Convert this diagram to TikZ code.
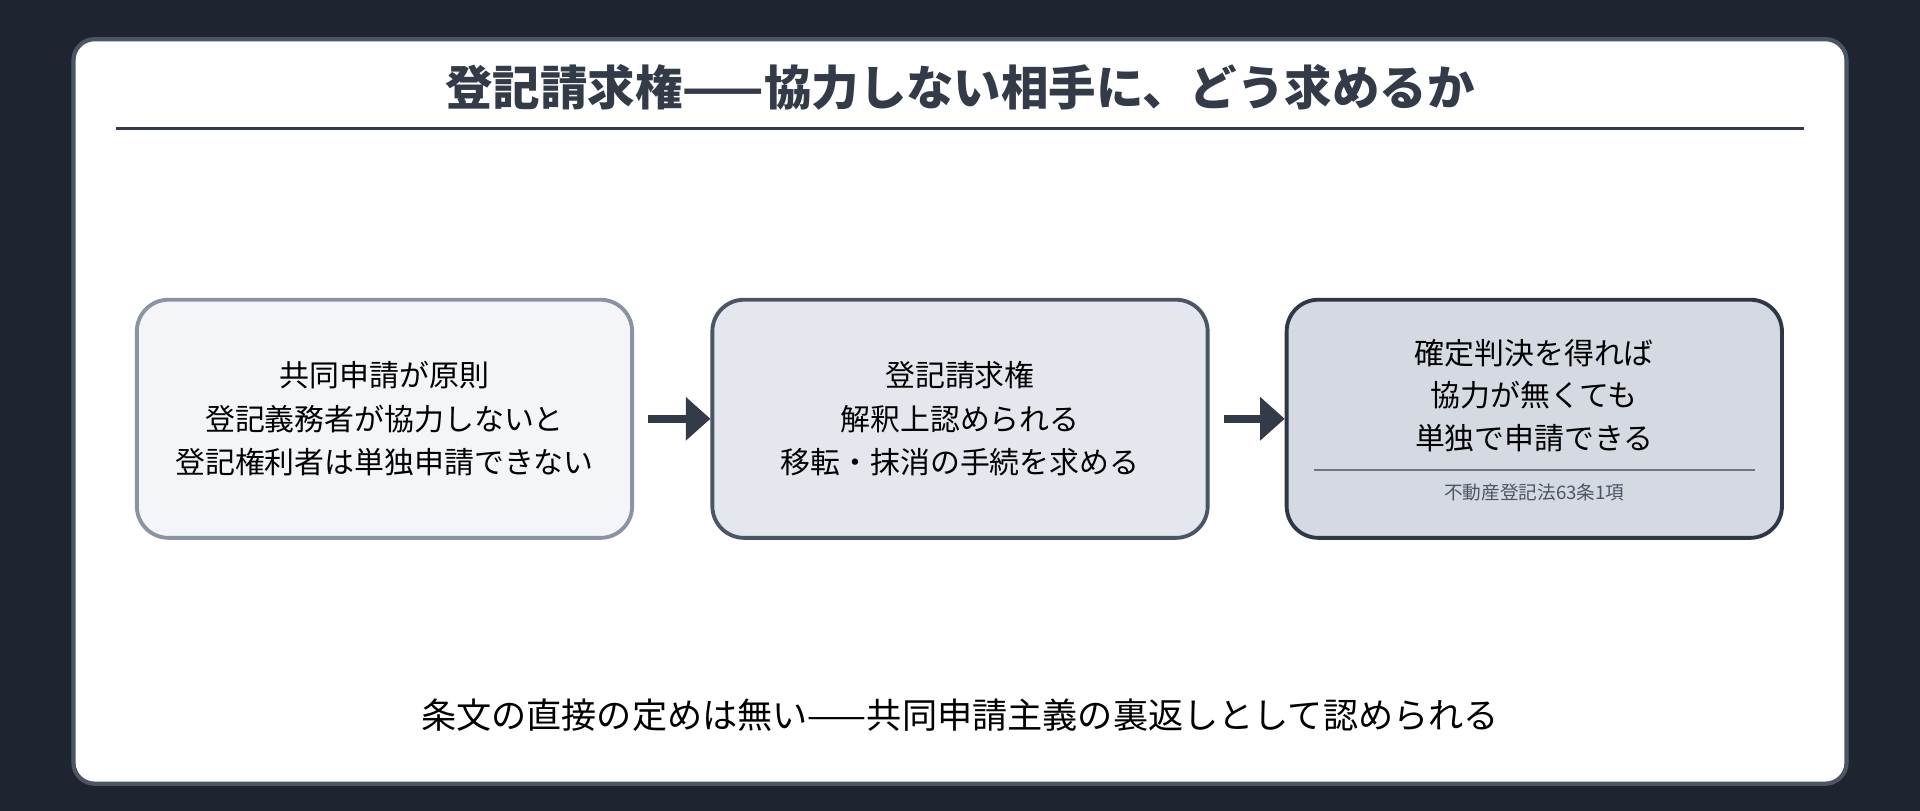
\documentclass[tikz,border=0pt]{standalone}
\usepackage{fontspec}
\setmainfont{Noto Sans CJK JP}
\usetikzlibrary{arrows.meta, positioning}
\definecolor{pagebg}{HTML}{1E2530}
\definecolor{ink}{HTML}{333B48}
\definecolor{fillA}{HTML}{F3F5F8}
\definecolor{fillB}{HTML}{E4E8EE}
\definecolor{fillC}{HTML}{D5DAE2}
\definecolor{lineA}{HTML}{8A93A3}
\definecolor{lineB}{HTML}{4B5566}
\definecolor{lineC}{HTML}{2E3746}
\tikzset{
    stage/.style={draw, rounded corners=9pt, line width=1.1pt, minimum width=4.95cm, minimum height=2.38cm, align=center, font=\fontsize{8.5}{12.4}\selectfont, text=black},
    flow/.style={-{Triangle[length=7pt, width=12pt]}, line width=2.3pt, draw=ink, shorten <=4pt},
}

\begin{document}
\begin{tikzpicture}[x=0.012245cm, y=-0.012245cm]
    \fill[pagebg] (0,0) rectangle (1568,662);
    \useasboundingbox (0,0) rectangle (1568,662);
    % card
    \draw[fill=white, draw=lineB, line width=1.2pt, rounded corners=6pt] (60,32) rectangle (1508,640);
    \node[font=\fontsize{13.5}{16}\selectfont\bfseries, text=ink] (title) at (784,71) {登記請求権——協力しない相手に、どう求めるか};
    \draw[ink, line width=0.8pt] (95,105) -- (1473,105);

    \node[stage, fill=fillA, draw=lineA] (s1) at (314,342) {共同申請が原則\\登記義務者が協力しないと\\登記権利者は単独申請できない};
    \node[stage, fill=fillB, draw=lineB] (s2) at (784,342) {登記請求権\\解釈上認められる\\移転・抹消の手続を求める};
    \node[stage, fill=fillC, draw=lineC] (s3) at (1253,342) {};
    \node[align=center, font=\fontsize{8.5}{12.1}\selectfont] (s3text) at (1253,323) {確定判決を得れば\\協力が無くても\\単独で申請できる};
    \draw[lineB!80, line width=0.7pt] (1073,384) -- (1433,384);
    \node[font=\fontsize{5.3}{7}\selectfont, text=lineB] (s3ref) at (1253,402) {不動産登記法63条1項};

    \draw[flow] (s1) -- (s2);
    \draw[flow] (s2) -- (s3);

    \node[font=\fontsize{10}{12}\selectfont, text=black] (note) at (784,584) {条文の直接の定めは無い——共同申請主義の裏返しとして認められる};
\end{tikzpicture}
\end{document}
